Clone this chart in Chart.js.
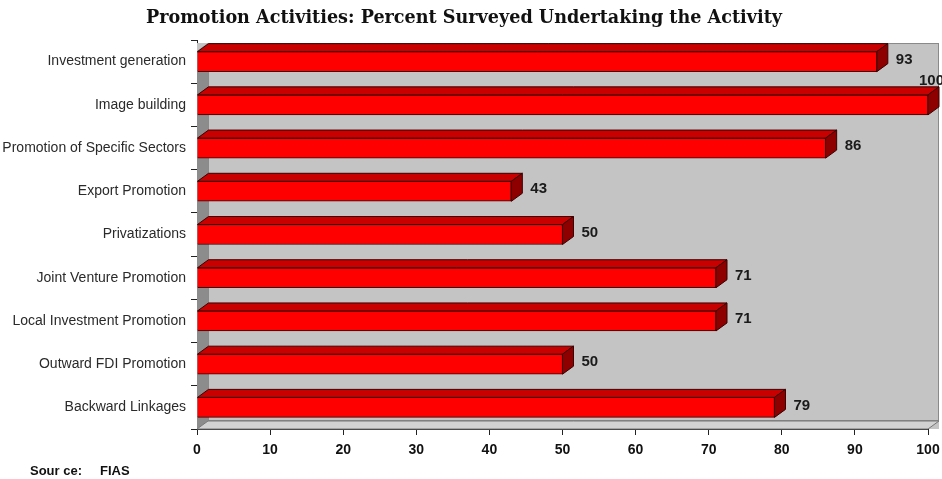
<html>
<head>
<script src="https://cdn.jsdelivr.net/npm/chart.js@4.4.0/dist/chart.umd.min.js"></script>
<style>
  body { margin: 0; background: white; }
  #wrap { width: 942px; height: 479px; position: relative; }
</style>
</head>
<body>
<div id="wrap"><canvas id="promoChart"></canvas></div>

<script>
  // chart data
  var activities = [
    "Investment generation",
    "Image building",
    "Promotion of Specific Sectors",
    "Export Promotion",
    "Privatizations",
    "Joint Venture Promotion",
    "Local Investment Promotion",
    "Outward FDI Promotion",
    "Backward Linkages"
  ];
  var percents = [93, 100, 86, 43, 50, 71, 71, 50, 79];
  var xTicks = [0, 10, 20, 30, 40, 50, 60, 70, 80, 90, 100];

  var depthX = 11, depthY = 8;

  // grey 3D "box" behind the bars
  var wallPlugin = {
    id: "wall",
    beforeDatasetsDraw: function(chart) {
      var a = chart.chartArea, c = chart.ctx;
      c.save();
      // back wall
      c.fillStyle = "#c4c4c4";
      c.fillRect(a.left, a.top + 3, a.right - a.left + depthX, a.bottom - a.top - 3);
      c.strokeStyle = "#8a8a8a";
      c.lineWidth = 1;
      c.strokeRect(a.left + depthX + 0.5, a.top + 3.5, a.right - a.left - 1, a.bottom - a.top - depthY - 4);
      // left side wall
      c.fillStyle = "#8c8c8c";
      c.beginPath();
      c.moveTo(a.left, a.top + 3 + depthY);
      c.lineTo(a.left + depthX, a.top + 3);
      c.lineTo(a.left + depthX, a.bottom - depthY);
      c.lineTo(a.left, a.bottom);
      c.closePath();
      c.fill();
      // floor
      c.fillStyle = "#d2d2d2";
      c.beginPath();
      c.moveTo(a.left, a.bottom);
      c.lineTo(a.left + depthX, a.bottom - depthY);
      c.lineTo(a.right + depthX, a.bottom - depthY);
      c.lineTo(a.right, a.bottom);
      c.closePath();
      c.fill();
      c.strokeStyle = "#777";
      c.stroke();
      c.restore();
    }
  };

  // top and side faces of each bar + value labels
  var barFacesPlugin = {
    id: "barFaces",
    afterDatasetsDraw: function(chart) {
      var c = chart.ctx;
      var meta = chart.getDatasetMeta(0);
      c.save();
      c.lineWidth = 1;
      c.strokeStyle = "#3a0000";
      meta.data.forEach(function(bar, i) {
        var p = bar.getProps(["x", "y", "base", "height"], true);
        var top = p.y - p.height / 2, bot = p.y + p.height / 2;
        // top face
        c.fillStyle = "#c80000";
        c.beginPath();
        c.moveTo(p.base, top);
        c.lineTo(p.base + depthX, top - depthY);
        c.lineTo(p.x + depthX, top - depthY);
        c.lineTo(p.x, top);
        c.closePath();
        c.fill(); c.stroke();
        // side face
        c.fillStyle = "#8e0000";
        c.beginPath();
        c.moveTo(p.x, top);
        c.lineTo(p.x + depthX, top - depthY);
        c.lineTo(p.x + depthX, bot - depthY);
        c.lineTo(p.x, bot);
        c.closePath();
        c.fill(); c.stroke();

        // value label
        var txt = String(percents[i]);
        c.font = "bold 15px 'Liberation Sans', Arial, sans-serif";
        c.fillStyle = "#1a1a1a";
        var lx = p.x + depthX + 8;
        var w = c.measureText(txt).width;
        if (lx + w > chart.width) {
          c.textAlign = "right";
          c.textBaseline = "bottom";
          c.fillText(txt, chart.width + 2, top - depthY + 2);
        } else {
          c.textAlign = "left";
          c.textBaseline = "middle";
          c.fillText(txt, lx, p.y - 2);
        }
      });
      // source note
      c.font = "bold 13px 'Liberation Sans', Arial, sans-serif";
      c.fillStyle = "#111";
      c.textAlign = "left";
      c.textBaseline = "middle";
      c.fillText("Sour ce:", 30, 471);
      c.fillText("FIAS", 100, 471);
      c.restore();
    }
  };

  var chart = new Chart(document.getElementById("promoChart"), {
    type: "bar",
    data: {
      labels: activities,
      datasets: [{
        data: percents,
        backgroundColor: "#ff0000",
        borderColor: "#3a0000",
        borderWidth: 1,
        barThickness: 20
      }]
    },
    options: {
      indexAxis: "y",
      responsive: true,
      maintainAspectRatio: false,
      animation: false,
      layout: { padding: { left: 0, right: 14, top: 0, bottom: 0 } },
      plugins: {
        legend: { display: false },
        tooltip: { enabled: false },
        title: {
          display: true,
          text: "Promotion Activities: Percent Surveyed Undertaking the Activity",
          color: "#111",
          font: { family: "'DejaVu Serif', serif", size: 17.6, weight: "bold", lineHeight: 1.2 },
          padding: { top: 8, bottom: 10.9 }
        }
      },
      scales: {
        x: {
          min: 0,
          max: 100,
          afterBuildTicks: function(s) { s.ticks = xTicks.map(function(v) { return { value: v }; }); },
          afterFit: function(s) { s.height = 50; s.paddingRight = 0; s.paddingLeft = 0; },
          grid: { drawOnChartArea: false, tickLength: 6, color: "#222" },
          border: { color: "#222", width: 1 },
          ticks: {
            color: "#111",
            padding: 7,
            maxRotation: 0,
            font: { family: "'Liberation Sans', Arial, sans-serif", size: 14, weight: "bold" }
          }
        },
        y: {
          afterFit: function(s) { s.width = 197; },
          grid: { drawOnChartArea: false, tickLength: 6, color: "#222", offset: true },
          border: { color: "#222", width: 1 },
          ticks: {
            color: "#2a2a2a",
            padding: 5,
            font: { family: "'Liberation Sans', Arial, sans-serif", size: 14 }
          }
        }
      }
    },
    plugins: [wallPlugin, barFacesPlugin]
  });
</script>
</body>
</html>
